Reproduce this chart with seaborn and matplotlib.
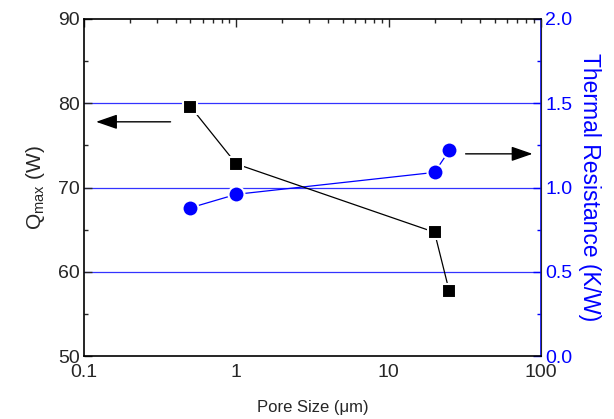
import numpy as np
import pandas as pd
import matplotlib
matplotlib.use("Agg")
import matplotlib.pyplot as plt
from matplotlib.ticker import LogLocator, MultipleLocator, FixedFormatter, NullFormatter
import seaborn as sns

pore_size = [0.5, 1, 20, 25]
qmax = [79.6, 72.8, 64.7, 57.7]
thermal_res = [0.88, 0.96, 1.09, 1.22]

sns.set_style("white")
plt.rcParams["font.family"] = ["Liberation Sans", "DejaVu Sans"]
plt.rcParams["mathtext.fontset"] = "custom"
plt.rcParams["mathtext.rm"] = "Liberation Sans"
plt.rcParams["mathtext.it"] = "Liberation Sans"

df = pd.DataFrame({"pore": pore_size, "qmax": qmax, "rth": thermal_res})

fig = plt.figure(figsize=(6.14, 4.19), dpi=100)
ax = fig.add_axes([0.1368, 0.150, 0.7443, 0.8047])
ax2 = ax.twinx()

# blue grid lines at right-axis majors
for v in [0.5, 1.0, 1.5]:
    ax2.axhline(v, color="#0000ff", lw=0.9, alpha=0.8, zorder=0)

sns.lineplot(data=df, x="pore", y="qmax", ax=ax, color="black", lw=0.9,
             marker="s", markersize=10, markerfacecolor="black",
             markeredgecolor="white", markeredgewidth=1.5, zorder=3)
sns.lineplot(data=df, x="pore", y="rth", ax=ax2, color="#0000ff", lw=0.9,
             marker="o", markersize=11.5, markerfacecolor="#0000ff",
             markeredgecolor="white", markeredgewidth=1.5, zorder=3)

ax.set_xscale("log")
ax.set_xlim(0.1, 100)
ax.set_ylim(50, 90)
ax2.set_ylim(0, 2.0)

ax.set_xticks([0.1, 1, 10, 100])
ax.xaxis.set_major_formatter(FixedFormatter(["0.1", "1", "10", "100"]))
ax.xaxis.set_minor_locator(LogLocator(base=10, subs=np.arange(2, 10)))
ax.xaxis.set_minor_formatter(NullFormatter())
ax.yaxis.set_major_locator(MultipleLocator(10))
ax.yaxis.set_minor_locator(MultipleLocator(5))
ax2.yaxis.set_major_locator(MultipleLocator(0.5))
ax2.yaxis.set_minor_locator(MultipleLocator(0.25))
ax2.yaxis.set_major_formatter(plt.FormatStrFormatter("%.1f"))

ax.tick_params(axis="both", which="major", direction="in", length=6, width=1,
               labelsize=14, top=True, right=False, pad=3)
ax.tick_params(axis="x", which="major", pad=6)
ax.tick_params(axis="x", which="minor", direction="in", length=3, width=1, top=True)
ax.tick_params(axis="y", which="minor", direction="in", length=3, width=1)
ax2.tick_params(axis="y", which="major", direction="in", length=6, width=1,
                labelsize=14, colors="#0000ff", pad=3)
ax2.tick_params(axis="y", which="minor", direction="in", length=3, width=1,
                colors="#0000ff")

for s in ["left", "bottom", "top"]:
    ax.spines[s].set_color("black")
    ax.spines[s].set_linewidth(1.2)
ax2.spines["right"].set_color("#0000ff")
ax2.spines["right"].set_linewidth(1.2)
ax2.spines["left"].set_visible(False)
ax2.spines["top"].set_visible(False)
ax2.spines["bottom"].set_visible(False)

ax.set_xlabel("Pore Size (\u03bcm)", fontsize=12, labelpad=13)
ax.set_ylabel("Q$_{\\mathregular{max}}$ (W)", fontsize=15, labelpad=8)
ax2.set_ylabel("Thermal Resistance (K/W)", fontsize=16.5, color="#0000ff",
               rotation=270, labelpad=21)

# direction arrows
ax.annotate("", xy=(0.12, 77.8), xytext=(0.37, 77.8),
            arrowprops=dict(arrowstyle="-|>,head_length=1.3,head_width=0.45",
                            color="black", lw=1, shrinkA=0, shrinkB=0))
ax2.annotate("", xy=(88, 1.20), xytext=(32, 1.20),
             arrowprops=dict(arrowstyle="-|>,head_length=1.3,head_width=0.45",
                             color="black", lw=1, shrinkA=0, shrinkB=0))

ax.set_zorder(ax2.get_zorder() + 1)
ax.patch.set_visible(False)

fig.savefig("out.png", dpi=100)
